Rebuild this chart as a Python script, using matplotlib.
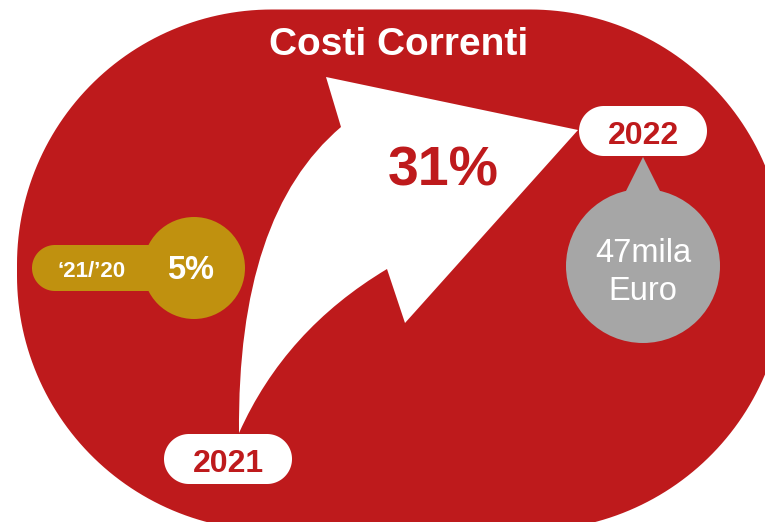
import numpy as np
import matplotlib
matplotlib.use('Agg')
import matplotlib.pyplot as plt
from matplotlib.patches import Circle, Polygon, PathPatch
from matplotlib.path import Path

plt.rcParams['font.family'] = ['Liberation Sans', 'DejaVu Sans']

# dati dell'infografica
titolo = 'Costi Correnti'
anni = ['2021', '2022']
variazione = '31%'
periodo_prec = '\u201821/\u201920'
variazione_prec = '5%'
valore_2022 = ['47mila', 'Euro']

ROSSO = '#BE1A1C'
ORO = '#C0910F'
GRIGIO = '#A6A6A6'


# rettangolo con angoli circolari (y verso il basso)
def rett_arrotondato(x0, y0, w, h, r):
    pts = []
    angoli = [(x0 + w - r, y0 + r, -90, 0), (x0 + w - r, y0 + h - r, 0, 90),
              (x0 + r, y0 + h - r, 90, 180), (x0 + r, y0 + r, 180, 270)]
    for cx, cy, a0, a1 in angoli:
        t = np.radians(np.linspace(a0, a1, 60))
        pts += list(zip(cx + r * np.cos(t), cy + r * np.sin(t)))
    return Polygon(pts, closed=True)


fig = plt.figure(figsize=(7.65, 5.22), dpi=100)
ax = fig.add_axes([0, 0, 1, 1])
ax.set_xlim(0, 765)
ax.set_ylim(522, 0)
ax.axis('off')

# sfondo rosso a capsula
sfondo = rett_arrotondato(17, 9.5, 768, 521, 255)
sfondo.set(fc=ROSSO, ec='none')
ax.add_patch(sfondo)
ax.text(399, 55, titolo, color='white', fontsize=28, fontweight='bold', ha='center', va='baseline')

# freccia bianca curva
verts = [(239, 433), (237, 215), (341, 127), (326, 77), (578, 130), (405, 323), (387, 269),
         (285, 330), (239, 433), (239, 433)]
codes = [Path.MOVETO, Path.CURVE3, Path.CURVE3, Path.LINETO, Path.LINETO, Path.LINETO,
         Path.LINETO, Path.CURVE3, Path.CURVE3, Path.CLOSEPOLY]
ax.add_patch(PathPatch(Path(verts, codes), fc='white', ec='none'))
ax.text(443, 185, variazione, color=ROSSO, fontsize=40, fontweight='bold', ha='center', va='baseline')

# etichette anni
for anno, (x0, y0) in zip(anni, [(164, 434), (579, 106)]):
    pill = rett_arrotondato(x0, y0, 128, 50, 25)
    pill.set(fc='white', ec='none')
    ax.add_patch(pill)
    ax.text(x0 + 64, y0 + 37.5, anno, color=ROSSO, fontsize=23, fontweight='bold',
            ha='center', va='baseline')

# variazione anno precedente
pill = rett_arrotondato(32, 245, 170, 46, 23)
pill.set(fc=ORO, ec='none')
ax.add_patch(pill)
ax.add_patch(Circle((194, 268), 51, fc=ORO, ec='none'))
ax.text(92, 277, periodo_prec, color='white', fontsize=16, fontweight='bold', ha='center', va='baseline')
ax.text(191, 279, variazione_prec, color='white', fontsize=23.5, fontweight='bold', ha='center', va='baseline')

# goccia grigia con il valore
ax.add_patch(Polygon([(624, 195), (643, 157), (662, 195)], closed=True, fc=GRIGIO, ec='none'))
ax.add_patch(Circle((643, 266), 77, fc=GRIGIO, ec='none'))
ax.text(643, 262, valore_2022[0], color='white', fontsize=23.5, ha='center', va='baseline')
ax.text(643, 300, valore_2022[1], color='white', fontsize=23.5, ha='center', va='baseline')

fig.savefig('out.png', dpi=100)
